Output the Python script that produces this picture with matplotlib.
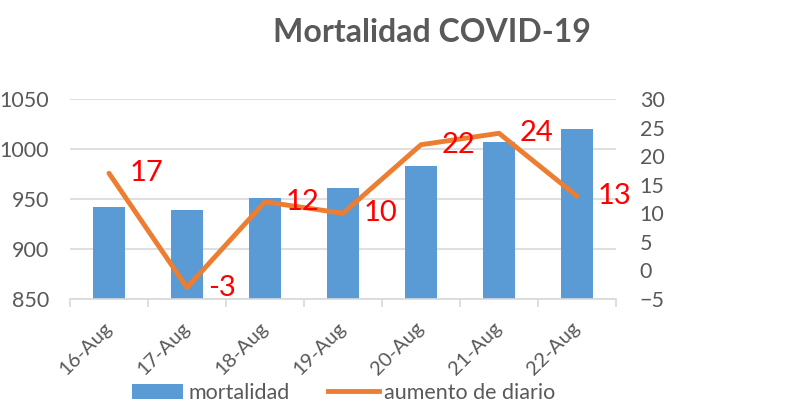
import matplotlib.pyplot as plt
from matplotlib.lines import Line2D
from matplotlib.patches import Patch

# === data ===
fechas = ["16-Aug", "17-Aug", "18-Aug", "19-Aug", "20-Aug", "21-Aug", "22-Aug"]
mortalidad = [942, 939, 951, 961, 983, 1007, 1020]
aumento = [17, -3, 12, 10, 22, 24, 13]

bar_color = "#5B9BD5"
line_color = "#ED7D31"
text_color = "#595959"
grid_color = "#D9D9D9"

plt.rcParams['font.family'] = ['Lato', 'DejaVu Sans']

fig = plt.figure(figsize=(7.94, 4.04), dpi=100)
ax = fig.add_axes([70 / 794, 1 - 299 / 404, 546 / 794, 200 / 404])
x = list(range(len(fechas)))

ax.bar(x, mortalidad, width=0.41, color=bar_color, zorder=2)
ax.set_ylim(850, 1050)
ax.set_yticks([850, 900, 950, 1000, 1050])
ax.set_xlim(-0.5, len(fechas) - 0.5)
ax.grid(axis='y', color=grid_color, linewidth=1.2, zorder=0)
ax.set_xticks([i - 0.5 for i in range(len(fechas) + 1)], minor=False)
ax.set_xticklabels([])
ax.set_xticks(x, minor=True)
ax.set_xticklabels(fechas, minor=True, rotation=45, ha='right', va='center',
                   rotation_mode='anchor')
ax.tick_params(axis='x', which='major', length=6, color=grid_color, width=1.2)
ax.tick_params(axis='x', which='minor', length=0, pad=19, labelsize=14.5, labelcolor=text_color)
ax.tick_params(axis='y', length=0, labelsize=15.5, labelcolor=text_color, pad=15)
for s in ['top', 'right', 'left']:
    ax.spines[s].set_visible(False)
ax.spines['bottom'].set_color(grid_color)
ax.spines['bottom'].set_linewidth(1.2)

ax2 = ax.twinx()
ax2.plot(x, aumento, color=line_color, linewidth=3.5, solid_capstyle='round', zorder=3)
ax2.set_ylim(-5, 30)
ax2.set_yticks([-5, 0, 5, 10, 15, 20, 25, 30])
ax2.tick_params(axis='y', length=0, labelsize=15.5, labelcolor=text_color, pad=17)
for s in ['top', 'right', 'left', 'bottom']:
    ax2.spines[s].set_visible(False)

for xi, v in zip(x, aumento):
    ax2.annotate(str(v), (xi, v), xytext=(15, 0), textcoords='offset points',
                 ha='left', va='center', color='red', fontsize=21)

fig.text(432 / 794, 1 - 33 / 404, "Mortalidad COVID-19", ha='center', va='center',
         fontsize=23, fontweight='bold', color=text_color)

handles = [Patch(facecolor=bar_color), Line2D([0], [0], color=line_color, linewidth=3.5)]
fig.legend(handles, ["mortalidad", "aumento de diario"], loc='center',
           bbox_to_anchor=(344 / 794, 1 - 393 / 404), ncol=2, frameon=False,
           fontsize=15.5, labelcolor=text_color, handlelength=2.35, handleheight=0.7,
           handletextpad=0.25, columnspacing=1.8, borderpad=0.1)

fig.savefig("out.png", dpi=100)
